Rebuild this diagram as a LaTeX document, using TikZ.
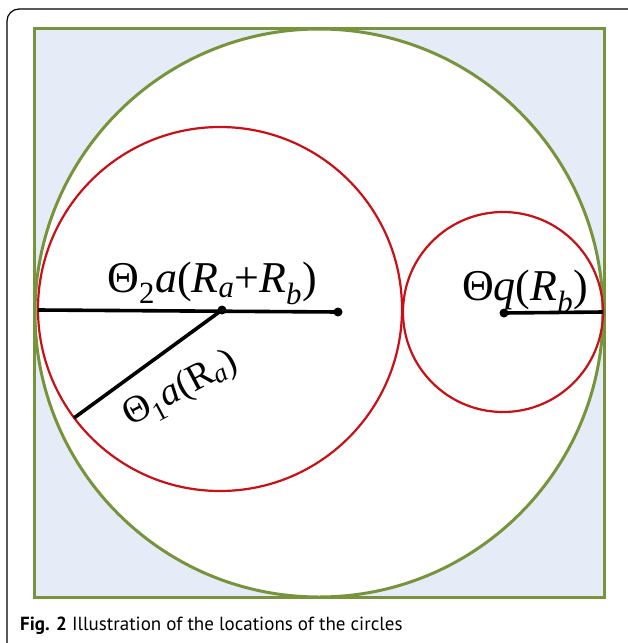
\documentclass[tikz,border=0pt]{standalone}
\usepackage{fontspec}
\newfontfamily\capfont{PT Sans}
\newfontfamily\lblfont{Liberation Serif}
\definecolor{paleBlue}{RGB}{230,236,247}
\definecolor{leafGreen}{RGB}{119,147,60}
\definecolor{ringRed}{RGB}{200,16,22}
\newcommand{\sbs}[1]{\textsubscript{#1}}
\tikzset{
	ring/.style={draw=ringRed, line width=2.2pt},
	edge/.style={draw=leafGreen, line width=3pt},
	rad/.style={draw=black, line width=3.6pt},
	lbl/.style={inner sep=0pt, anchor=base, font=\lblfont\fontsize{44}{50}\selectfont}
}
\begin{document}
\begin{tikzpicture}[x=1pt,y=-1pt]
	\useasboundingbox (0,0) rectangle (627,643);
	% frame and background
	\draw[line width=1.2pt, rounded corners=12pt] (7,9) rectangle (650,660);
	\fill[paleBlue] (34,28) rectangle (604,597);
	\fill[white] (319,313) circle [radius=284pt];
	\draw[edge] (34,28) rectangle (604,597);
	\draw[edge] (319,313) circle [radius=284pt];
	% inner circles
	\draw[ring] (220,309) circle [radius=182pt];
	\draw[ring] (503,312) circle [radius=100pt];
	% radius lines
	\coordinate (A)  at ( 38,310);
	\coordinate (Oa) at (222,310);
	\coordinate (E)  at (338,312);
	\coordinate (P)  at ( 74,418);
	\coordinate (Ob) at (504,313);
	\coordinate (Q)  at (603,312);
	\draw[rad] (A) -- (E);
	\draw[rad] (Oa) -- (P);
	\draw[rad] (Ob) -- (Q);
	\fill (Oa) circle [radius=4.5pt];
	\fill (E)  circle [radius=4.5pt];
	\fill (Ob) circle [radius=4.5pt];
	% labels
	\node[lbl] (L2) at (212,292) {Θ\sbs{2}\textit{a}(\textit{R}\sbs{\textit{a}}+\textit{R}\sbs{\textit{b}})};
	\node[lbl, anchor=center, rotate=28, font=\lblfont\fontsize{38}{44}\selectfont] (L1) at (181,390) {Θ\sbs{1}\textit{a}(R\sbs{\textit{a}})};
	\node[lbl] (Lq) at (525,300) {Θ\textit{q}(\textit{R}\sbs{\textit{b}})};
	% caption
	\node[anchor=base west, inner sep=0pt, font=\capfont\fontsize{19}{22}\selectfont] (cap) at (20,630)
		{\bfseries Fig. 2\mdseries\ Illustration of the locations of the circles};
\end{tikzpicture}
\end{document}
